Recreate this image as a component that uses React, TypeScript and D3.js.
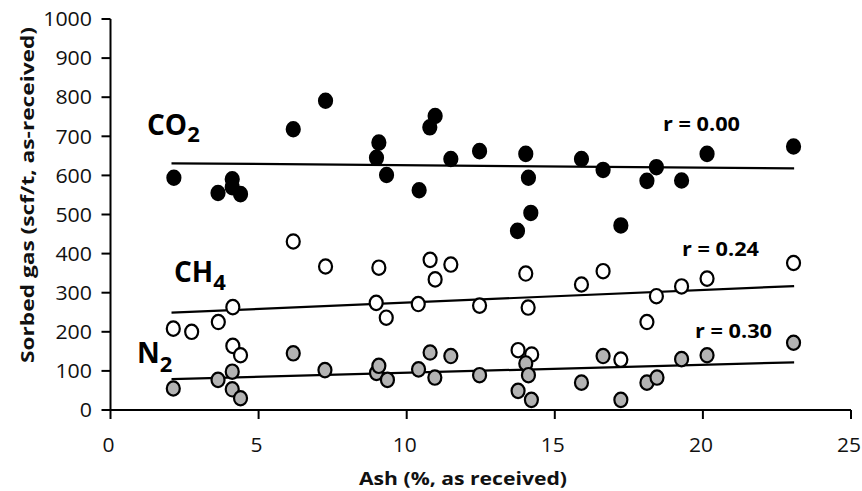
import React from "react";
import * as d3 from "d3";

const xTicks = [0, 5, 10, 15, 20, 25];
const yTicks = [0, 100, 200, 300, 400, 500, 600, 700, 800, 900, 1000];

const co2Ash = [2.14, 3.63, 4.11, 4.11, 4.39, 6.17, 7.26, 8.98, 9.06, 9.32, 10.42, 10.78, 10.96, 11.49, 12.46, 13.74, 14.02, 14.11, 14.19, 15.9, 16.63, 17.23, 18.11, 18.43, 19.28, 20.14, 23.06];
const co2Gas = [594, 555, 590, 570, 552, 718, 791, 645, 684, 601, 562, 723, 752, 642, 662, 458, 655, 594, 504, 642, 614, 472, 586, 621, 587, 655, 674];

const ch4Ash = [2.12, 2.74, 3.64, 4.13, 4.13, 4.39, 6.17, 7.26, 8.97, 9.06, 9.31, 10.39, 10.79, 10.96, 11.49, 12.46, 13.76, 14.02, 14.1, 14.22, 15.9, 16.63, 17.23, 18.11, 18.43, 19.28, 20.14, 23.06];
const ch4Gas = [208, 200, 225, 263, 164, 140, 431, 367, 274, 364, 236, 271, 384, 334, 372, 267, 153, 349, 262, 142, 321, 355, 129, 225, 291, 316, 336, 376];

const n2Ash = [2.12, 3.63, 4.11, 4.11, 4.39, 6.17, 7.24, 8.98, 9.06, 9.35, 10.4, 10.79, 10.95, 11.49, 12.46, 13.76, 14.02, 14.11, 14.21, 15.9, 16.63, 17.23, 18.11, 18.45, 19.28, 20.14, 23.06];
const n2Gas = [55, 77, 98, 53, 30, 145, 102, 95, 113, 77, 104, 147, 83, 138, 89, 49, 119, 89, 26, 70, 138, 26, 70, 83, 130, 140, 172];

// trend line endpoints [ash, gas]
const co2Fit = [[2.06, 631], [23.08, 618]];
const ch4Fit = [[2.06, 249], [23.08, 317]];
const n2Fit = [[2.06, 79], [23.08, 122]];

const rLabels = ["r = 0.00", "r = 0.24", "r = 0.30"];

const W = 862;
const H = 491;
const FONT = "'Open Sans', 'DejaVu Sans', sans-serif";

export default function App() {
  const x = d3.scaleLinear().domain([0, 25]).range([110.5, 851]);
  const y = d3.scaleLinear().domain([0, 1000]).range([410, 19]);
  const line = d3.line<number[]>().x((d) => x(d[0])).y((d) => y(d[1]));

  const series = [
    { ash: co2Ash, gas: co2Gas, fill: "#000000" },
    { ash: ch4Ash, gas: ch4Gas, fill: "#ffffff" },
    { ash: n2Ash, gas: n2Gas, fill: "#b3b3b3" },
  ];
  const fits = [co2Fit, ch4Fit, n2Fit];
  const rPos = [
    { x: 663, y: 131 },
    { x: 682, y: 256 },
    { x: 695, y: 338 },
  ];

  return (
    <div style={{ position: "absolute", left: 0, top: 0 }}>
      <svg width={W} height={H} style={{ display: "block", background: "#fff" }}>
        {/* axes */}
        <line x1={x(0)} x2={x(25)} y1={y(0)} y2={y(0)} stroke="#000" strokeWidth={2} />
        <line x1={x(0)} x2={x(0)} y1={y(0) + 1} y2={y(1000)} stroke="#000" strokeWidth={2} />
        {xTicks.map((t) => (
          <g key={"xt" + t}>
            <line x1={x(t)} x2={x(t)} y1={y(0)} y2={y(0) + 9} stroke="#000" strokeWidth={2} />
            <text
              x={x(t) - 2}
              y={452}
              textAnchor="middle"
              fontFamily={FONT}
              fontSize={20}
              fill="#111"
              textLength={String(t).length * 12}
              lengthAdjust="spacingAndGlyphs"
            >
              {t}
            </text>
          </g>
        ))}
        {yTicks.map((t) => (
          <g key={"yt" + t}>
            <line x1={x(0) - 9} x2={x(0)} y1={y(t)} y2={y(t)} stroke="#000" strokeWidth={2} />
            <text
              x={92}
              y={y(t)}
              dy="0.36em"
              textAnchor="end"
              fontFamily={FONT}
              fontSize={20}
              fill="#111"
              textLength={String(t).length * 12.2}
              lengthAdjust="spacingAndGlyphs"
            >
              {t}
            </text>
          </g>
        ))}
        <text
          x={463}
          y={485}
          textAnchor="middle"
          fontFamily={FONT}
          fontSize={18}
          fontWeight="bold"
          fill="#111"
          textLength={208}
          lengthAdjust="spacingAndGlyphs"
        >
          Ash (%, as received)
        </text>
        <text
          transform={`translate(34,195) rotate(-90)`}
          textAnchor="middle"
          fontFamily={FONT}
          fontSize={18}
          fontWeight="bold"
          fill="#111"
          textLength={336}
          lengthAdjust="spacingAndGlyphs"
        >
          Sorbed gas (scf/t, as-received)
        </text>

        {/* trend lines */}
        {fits.map((f, i) => (
          <path key={"fit" + i} d={line(f) || ""} fill="none" stroke="#000" strokeWidth={2.2} />
        ))}

        {/* points */}
        {series.map((s, si) => (
          <g key={"s" + si}>
            {s.ash.map((a, i) => (
              <ellipse
                key={i}
                cx={x(a)}
                cy={y(s.gas[i])}
                rx={6.5}
                ry={7.2}
                fill={s.fill}
                stroke="#000"
                strokeWidth={2.2}
              />
            ))}
          </g>
        ))}

        {/* gas labels */}
        <text x={147} y={135} fontFamily={FONT} fontSize={28} fontWeight="bold" fill="#000">
          CO<tspan fontSize={22} dy={7}>2</tspan>
        </text>
        <text x={174} y={282} fontFamily={FONT} fontSize={28} fontWeight="bold" fill="#000">
          CH<tspan fontSize={22} dy={8}>4</tspan>
        </text>
        <text x={137} y={363} fontFamily={FONT} fontSize={28} fontWeight="bold" fill="#000">
          N<tspan fontSize={22} dy={9}>2</tspan>
        </text>

        {/* r labels */}
        {rLabels.map((r, i) => (
          <text
            key={"r" + i}
            x={rPos[i].x}
            y={rPos[i].y}
            fontFamily={FONT}
            fontSize={19}
            fontWeight="bold"
            fill="#000"
            textLength={77}
            lengthAdjust="spacingAndGlyphs"
          >
            {r}
          </text>
        ))}
      </svg>
    </div>
  );
}
